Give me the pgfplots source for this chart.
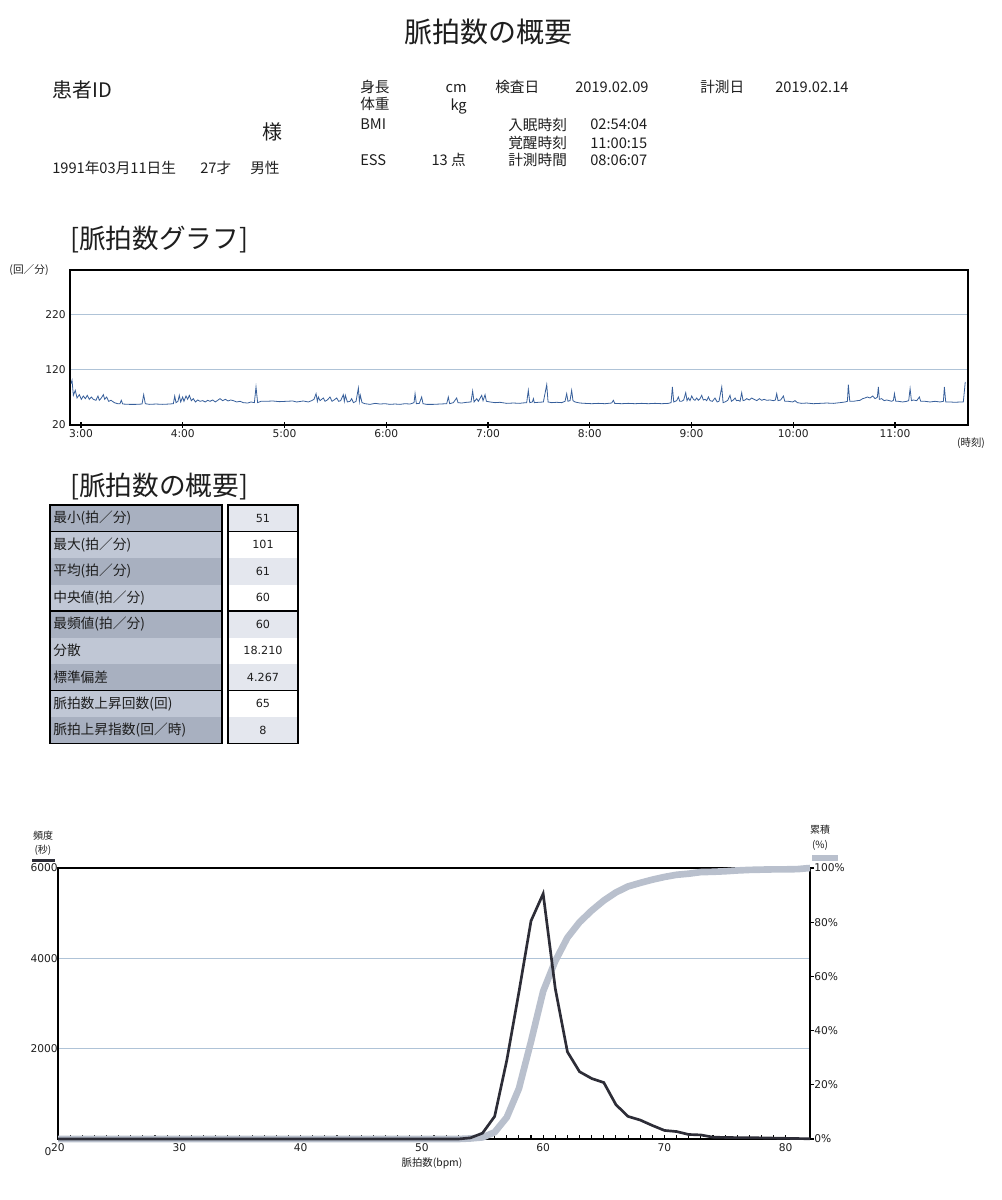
\documentclass[border=0pt]{standalone}
\usepackage{fontspec}
\setmainfont{Noto Sans CJK JP}
\newfontfamily\tickfont{DejaVu Sans}
\usepackage{graphicx}
\usepackage{pgfplots}
\pgfplotsset{compat=1.18}

\definecolor{hrblue}{RGB}{55,95,155}
\definecolor{gridc}{RGB}{175,195,215}
\definecolor{darkl}{RGB}{45,45,55}
\definecolor{cumc}{RGB}{185,192,205}
\definecolor{cellA}{RGB}{168,176,192}
\definecolor{cellB}{RGB}{192,199,213}
\definecolor{valA}{RGB}{228,231,238}
\definecolor{txt}{RGB}{30,30,30}

\newcommand{\hd}{\fontsize{11}{13}\selectfont}
\newcommand{\tb}{\fontsize{10.3}{12}\selectfont}
\newcommand{\tv}{\tickfont\fontsize{8.4}{10}\selectfont}

\begin{document}
\begin{tikzpicture}[x=0.75pt,y=-0.75pt,every node/.append style={text=txt,inner sep=0pt}]
\path (0,0) rectangle (1001,1200);

% ---------- header ----------
\node[font=\fontsize{21}{24}\selectfont] at (488,32) {脈拍数の概要};
\node[anchor=west,font=\fontsize{15}{17}\selectfont] at (52,90) {患者ID};
\node[anchor=west,font=\fontsize{15}{17}\selectfont] at (262,132) {様};
\node[anchor=west,font=\hd] at (52,168) {1991年03月11日生};
\node[anchor=west,font=\hd] at (200,168) {27才};
\node[anchor=west,font=\hd] at (250,168) {男性};

\node[anchor=west,font=\hd] at (360,87) {身長};
\node[anchor=east,font=\hd] at (467,89) {cm};
\node[anchor=west,font=\hd] at (495,87) {検査日};
\node[anchor=west,font=\hd] at (575,87) {2019.02.09};
\node[anchor=west,font=\hd] at (700,87) {計測日};
\node[anchor=west,font=\hd] at (775,87) {2019.02.14};
\node[anchor=west,font=\hd] at (360,104) {体重};
\node[anchor=east,font=\hd] at (467,106) {kg};
\node[anchor=west,font=\hd] at (360,124) {BMI};
\node[anchor=west,font=\hd] at (508,125) {入眠時刻};
\node[anchor=west,font=\hd] at (590,124) {02:54:04};
\node[anchor=west,font=\hd] at (508,143) {覚醒時刻};
\node[anchor=west,font=\hd] at (590,143) {11:00:15};
\node[anchor=west,font=\hd] at (360,160) {ESS};
\node[anchor=east,font=\hd] at (466,160) {13 点};
\node[anchor=west,font=\hd] at (508,160) {計測時間};
\node[anchor=west,font=\hd] at (590,160) {08:06:07};

% ---------- section 1 ----------
\node[anchor=west,font=\fontsize{20}{22}\selectfont] at (70,240) {[脈拍数グラフ]};
\node[font=\fontsize{8}{9}\selectfont] at (29,270) {(回／分)};
\node[font=\fontsize{7.8}{9}\selectfont] at (971,443) {(時刻)};

\begin{axis}[
  at={(52.5pt,-202.5pt)}, anchor=north west, scale only axis,
  width=673.5pt, height=116.25pt,
  xmin=2.892, xmax=11.717, ymin=20, ymax=300,
  xtick={3,4,5,6,7,8,9,10,11},
  xticklabels={3:00,4:00,5:00,6:00,7:00,8:00,9:00,10:00,11:00},
  ytick={20,120,220},
  ymajorgrids, grid style={gridc, line width=0.7pt},
  axis line style={line width=1.4pt, black},
  tick align=center, xtick pos=bottom, ytick pos=left,
  major tick length=4pt,
  x tick style={line width=1pt, black},
  ytick style={draw=none},
  tick label style={font=\tickfont\fontsize{8}{9}\selectfont},
  xticklabel style={yshift=-1pt},
  yticklabel style={xshift=-1pt},
  /pgf/number format/assume math mode=true,
]
\addplot[hrblue, line width=0.6pt] coordinates {
(2.902,95.0)(2.912,100.7)(2.925,73.6)(2.944,82.6)(2.961,68.8)(2.984,74.8)(3.003,66.4)(3.023,72.4)(3.043,67.6)(3.062,73.6)(3.082,66.4)(3.102,70.6)(3.121,66.4)(3.147,64.6)(3.167,72.4)(3.180,64.6)(3.200,68.8)(3.220,74.8)(3.233,66.4)(3.252,70.6)(3.272,62.8)(3.295,64.6)(3.328,60.4)(3.360,58.5)(3.383,58.5)(3.396,64.6)(3.410,57.9)(3.475,57.3)(3.541,57.3)(3.600,57.9)(3.616,74.8)(3.632,58.5)(3.672,57.3)(3.737,57.9)(3.803,57.3)(3.868,57.9)(3.908,58.5)(3.921,72.4)(3.934,60.4)(3.953,62.8)(3.966,73.6)(3.980,61.6)(3.999,70.6)(4.012,62.8)(4.032,72.4)(4.048,66.4)(4.065,73.6)(4.084,64.0)(4.104,67.6)(4.124,61.6)(4.147,65.2)(4.170,62.8)(4.196,64.0)(4.222,61.6)(4.245,64.6)(4.268,62.8)(4.294,65.2)(4.320,61.6)(4.343,64.6)(4.366,67.6)(4.392,64.0)(4.419,66.4)(4.445,63.4)(4.471,65.2)(4.497,64.0)(4.530,61.6)(4.563,62.8)(4.595,60.4)(4.638,59.7)(4.671,61.6)(4.704,60.4)(4.720,88.6)(4.736,60.4)(4.769,62.8)(4.818,62.8)(4.884,63.4)(4.949,62.2)(5.015,62.8)(5.080,63.4)
(5.120,61.6)(5.185,63.4)(5.234,61.6)(5.267,64.0)(5.290,66.4)(5.310,76.6)(5.323,62.8)(5.333,70.6)(5.349,64.0)(5.382,68.8)(5.398,62.8)(5.421,65.2)(5.447,70.6)(5.467,62.8)(5.487,65.2)(5.513,68.8)(5.532,62.8)(5.552,64.0)(5.578,74.8)(5.588,62.8)(5.598,73.6)(5.618,61.6)(5.644,62.8)(5.660,67.6)(5.677,60.4)(5.703,62.8)(5.726,86.8)(5.736,62.8)(5.745,73.6)(5.762,60.4)(5.791,58.5)(5.840,57.3)(5.890,59.1)(5.939,57.9)(5.988,58.5)(6.037,57.3)(6.086,57.9)(6.135,57.3)(6.184,58.5)(6.234,57.9)(6.273,60.4)(6.283,76.6)(6.296,58.5)(6.325,59.1)(6.348,70.6)(6.361,58.5)(6.397,57.3)(6.463,57.3)(6.528,57.9)(6.594,58.5)(6.610,70.6)(6.623,58.5)(6.659,60.4)(6.692,68.8)(6.705,60.4)(6.741,59.7)(6.790,61.0)(6.833,61.6)(6.849,81.4)(6.863,61.6)(6.889,67.6)(6.905,62.8)(6.938,73.6)(6.951,64.0)(6.971,74.8)(6.984,62.8)(7.020,61.6)(7.069,60.4)(7.118,61.0)(7.184,59.1)(7.249,59.7)(7.315,59.1)
(7.331,59.7)(7.380,60.4)(7.396,82.6)(7.410,60.4)(7.436,61.6)(7.446,67.6)(7.455,60.4)(7.495,61.0)(7.544,61.6)(7.577,92.9)(7.590,61.6)(7.626,60.4)(7.675,61.0)(7.724,60.4)(7.757,62.8)(7.773,76.6)(7.786,62.8)(7.806,64.0)(7.822,82.6)(7.835,64.0)(7.855,61.6)(7.904,59.7)(7.953,59.1)(8.019,58.5)(8.084,59.1)(8.150,58.5)(8.215,59.7)(8.232,64.6)(8.245,59.1)(8.314,58.5)(8.379,59.1)(8.445,58.5)(8.510,59.1)(8.576,58.5)(8.641,59.1)(8.707,58.5)(8.772,59.1)(8.799,60.4)(8.812,88.6)(8.825,61.6)(8.854,64.0)(8.871,70.6)(8.884,62.8)(8.903,62.8)(8.923,65.2)(8.943,78.4)(8.956,64.0)(8.969,68.8)(8.985,64.0)(9.002,72.4)(9.018,66.4)(9.034,64.6)(9.051,68.8)(9.067,64.6)(9.084,67.6)(9.100,73.6)(9.116,65.2)(9.133,66.4)(9.149,64.0)(9.166,70.6)(9.182,64.0)(9.205,62.8)(9.231,68.8)(9.251,61.6)(9.270,62.8)(9.297,88.6)(9.310,60.4)(9.329,61.6)(9.356,64.6)(9.378,73.6)(9.392,62.8)(9.411,65.2)(9.428,68.8)(9.441,64.0)(9.460,64.6)(9.477,62.8)(9.493,78.4)(9.506,64.0)(9.526,65.2)
(9.542,67.6)(9.568,65.2)(9.591,68.8)(9.614,66.4)(9.641,64.0)(9.667,67.6)(9.690,64.6)(9.713,66.4)(9.739,64.6)(9.772,65.2)(9.804,64.0)(9.824,65.2)(9.837,76.6)(9.850,64.0)(9.876,65.2)(9.903,72.4)(9.916,62.8)(9.952,62.8)(9.994,61.6)(10.017,64.0)(10.040,60.4)(10.083,59.1)(10.132,59.7)(10.197,58.5)(10.263,59.1)(10.329,59.7)(10.394,59.1)(10.460,60.4)(10.509,61.6)(10.532,62.8)(10.541,92.9)(10.555,62.8)(10.591,62.8)(10.630,64.0)(10.656,64.6)(10.682,67.6)(10.705,68.8)(10.728,70.6)(10.754,68.8)(10.781,72.4)(10.803,67.6)(10.826,70.0)(10.836,88.6)(10.846,66.4)(10.869,67.6)(10.892,64.0)(10.918,65.2)(10.944,64.0)(10.967,62.8)(10.984,64.6)(10.994,76.6)(11.007,62.8)(11.033,62.8)(11.075,61.6)(11.115,62.8)(11.134,64.0)(11.148,85.6)(11.161,64.0)(11.180,65.2)(11.213,64.0)(11.239,70.6)(11.252,62.8)(11.295,62.8)(11.344,61.6)(11.393,62.8)(11.442,61.6)(11.475,62.8)(11.485,88.6)(11.498,61.6)(11.541,61.6)(11.590,61.0)(11.639,61.6)(11.671,61.6)(11.690,97.7)
};
\end{axis}

% ---------- section 2: table ----------
\node[anchor=west,font=\fontsize{20}{22}\selectfont] at (70,487) {[脈拍数の概要]};
\fill[cellA] (50,505) rectangle (222,531.5);
\fill[cellB] (50,531.5) rectangle (222,558);
\fill[cellA] (50,558) rectangle (222,584.5);
\fill[cellB] (50,584.5) rectangle (222,611);
\fill[cellA] (50,611) rectangle (222,637.5);
\fill[cellB] (50,637.5) rectangle (222,664);
\fill[cellA] (50,664) rectangle (222,690.5);
\fill[cellB] (50,690.5) rectangle (222,717);
\fill[cellA] (50,717) rectangle (222,743.5);
\fill[valA] (228,505) rectangle (298,531.5);
\fill[white] (228,531.5) rectangle (298,558);
\fill[valA] (228,558) rectangle (298,584.5);
\fill[white] (228,584.5) rectangle (298,611);
\fill[valA] (228,611) rectangle (298,637.5);
\fill[white] (228,637.5) rectangle (298,664);
\fill[valA] (228,664) rectangle (298,690.5);
\fill[white] (228,690.5) rectangle (298,717);
\fill[valA] (228,717) rectangle (298,743.5);
\draw[black,line width=1.4pt] (50,505) rectangle (222,743.5);
\draw[black,line width=1.4pt] (228,505) rectangle (298,743.5);
\foreach \yy in {531.5,611,690.5}{
  \draw[black,line width=1.4pt] (50,\yy) -- (222,\yy);
  \draw[black,line width=1.4pt] (228,\yy) -- (298,\yy);
}
\node[anchor=west,font=\tb] at (53,518.25) {最小(拍／分)};
\node[anchor=west,font=\tb] at (53,544.75) {最大(拍／分)};
\node[anchor=west,font=\tb] at (53,571.25) {平均(拍／分)};
\node[anchor=west,font=\tb] at (53,597.75) {中央値(拍／分)};
\node[anchor=west,font=\tb] at (53,624.25) {最頻値(拍／分)};
\node[anchor=west,font=\tb] at (53,650.75) {分散};
\node[anchor=west,font=\tb] at (53,677.25) {標準偏差};
\node[anchor=west,font=\tb] at (53,703.75) {脈拍数上昇回数(回)};
\node[anchor=west,font=\tb] at (53,730.25) {脈拍上昇指数(回／時)};
\node[font=\tv] at (263,518.25) {51};
\node[font=\tv] at (263,544.75) {101};
\node[font=\tv] at (263,571.25) {61};
\node[font=\tv] at (263,597.75) {60};
\node[font=\tv] at (263,624.25) {60};
\node[font=\tv] at (263,650.75) {18.210};
\node[font=\tv] at (263,677.25) {4.267};
\node[font=\tv] at (263,703.75) {65};
\node[font=\tv] at (263,730.25) {8};

% ---------- section 3: histogram ----------
\node[font=\fontsize{7.5}{9}\selectfont] at (43,836) {頻度};
\node[font=\fontsize{7.5}{9}\selectfont] at (43,850) {(秒)};
\draw[darkl,line width=2.25pt] (32,860) -- (55,860);
\node[font=\fontsize{7.5}{9}\selectfont] at (820,830) {累積};
\node[font=\fontsize{7.5}{9}\selectfont] at (820,845) {(\%)};
\draw[cumc,line width=4.5pt] (812,858) -- (838,858);
\node[font=\fontsize{7.8}{9}\selectfont] at (432,1163) {脈拍数(bpm)};
\node[font=\tickfont\fontsize{8}{9}\selectfont] at (48,1152) {0};

\begin{axis}[
  at={(43.5pt,-651pt)}, anchor=north west, scale only axis,
  width=564pt, height=203.25pt,
  xmin=20, xmax=82, ymin=0, ymax=6000,
  xtick={20,30,40,50,60,70,80}, minor x tick num=9,
  ytick={2000,4000,6000},
  ymajorgrids, grid style={gridc, line width=0.7pt},
  axis line style={line width=1.4pt, black},
  xtick pos=bottom, ytick pos=left, tick align=inside,
  major tick length=3pt, minor tick length=3pt,
  x tick style={black, line width=0.8pt},
  ytick style={draw=none},
  scaled y ticks=false,
  yticklabel style={font=\tickfont\fontsize{8}{9}\selectfont},
  xticklabel style={font=\tickfont\fontsize{8}{9}\selectfont, yshift=-3pt},
  /pgf/number format/1000 sep={},
  /pgf/number format/assume math mode=true,
]
\end{axis}

\begin{axis}[
  at={(43.5pt,-651pt)}, anchor=north west, scale only axis,
  width=564pt, height=203.25pt,
  xmin=20, xmax=82, ymin=0, ymax=100,
  axis x line=none, axis y line*=right,
  axis line style={line width=1.4pt, black},
  ytick={0,20,40,60,80,100},
  yticklabel={\pgfmathprintnumber{\tick}\%},
  tick align=outside, major tick length=3pt,
  ytick style={black, line width=0.8pt},
  tick label style={font=\tickfont\fontsize{8}{9}\selectfont},
  /pgf/number format/assume math mode=true,
  clip=false,
]
\addplot[cumc, line width=5pt, line join=round] coordinates {
(20,0)(30,0)(40,0)(50,0)(53,0)(54,0.2)(55,0.6)(56,2.5)(57,8.0)(58,18.6)(59,36.0)(60,54.5)(61,65.7)(62,74.3)(63,80.0)(64,84.3)(65,88.0)(66,91.0)(67,93.2)(68,94.5)(69,95.7)(70,96.7)(71,97.5)(72,97.9)(73,98.5)(74,98.6)(75,98.8)(76,99.1)(77,99.3)(78,99.4)(79,99.5)(80,99.5)(81,99.6)(82,100)
};
\end{axis}

\begin{axis}[
  at={(43.5pt,-651pt)}, anchor=north west, scale only axis,
  width=564pt, height=203.25pt,
  xmin=20, xmax=82, ymin=0, ymax=6000,
  hide axis, clip=false,
]
\addplot[darkl, line width=2pt, line join=miter] coordinates {
(20,0)(30,0)(40,0)(50,0)(53,0)(54,25)(55,130)(56,500)(57,1740)(58,3250)(59,4830)(60,5430)(61,3330)(62,1930)(63,1490)(64,1340)(65,1250)(66,760)(67,500)(68,420)(69,300)(70,190)(71,165)(72,100)(73,90)(74,40)(75,35)(76,30)(77,30)(78,25)(79,20)(80,15)(81,10)(82,5)
};
\end{axis}
\end{tikzpicture}
\end{document}
